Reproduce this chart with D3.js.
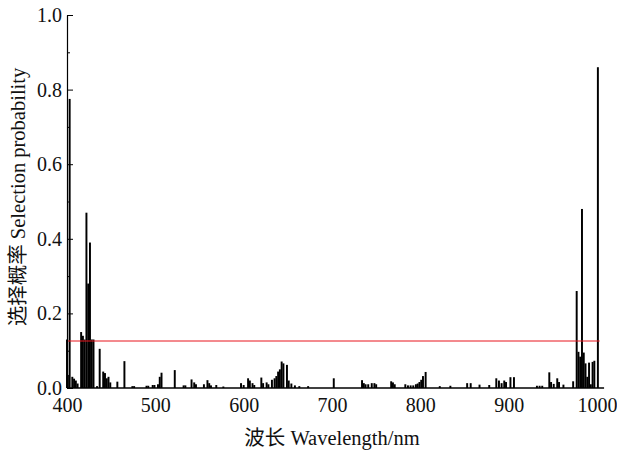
<!DOCTYPE html>
<html>
<head>
<meta charset="utf-8">
<script src="https://cdn.jsdelivr.net/npm/d3@7"></script>
<style>
  body { margin: 0; background: #fff; }
  text { font-family: "Liberation Serif", "Times New Roman", "Noto Sans CJK SC", serif; fill: #111; }
</style>
</head>
<body>
<svg id="chart" width="617" height="451"></svg>
<script>
// wavelength (nm) of each selected band and its selection probability
var wavelengths = [400, 401, 403, 406, 408, 410, 412, 416, 418, 420, 422, 424, 426, 428, 430,
  434, 437, 441, 443, 445, 447, 449, 457, 465, 474, 476, 490, 492, 497, 499,
  503, 505, 507, 522, 532, 534, 541, 544, 546, 555, 559, 561, 563, 569, 577,
  597, 600, 605, 607, 610, 612, 620, 622, 626, 628, 632, 635, 637, 639, 641,
  643, 645, 649, 651, 654, 658, 663, 673, 702, 734, 736, 738, 741, 745, 748,
  750, 767, 769, 771, 783, 786, 789, 792, 795, 797, 799, 801, 803, 806, 822,
  834, 853, 857, 867, 878, 886, 889, 892, 895, 897, 902, 906, 932, 935, 938,
  946, 948, 951, 955, 957, 962, 973, 977, 979, 981, 983, 985, 987, 989, 991,
  993, 995, 997, 1001];
var probs = [0.13, 0.035, 0.775, 0.03, 0.025, 0.02, 0.012, 0.15, 0.14, 0.13, 0.47, 0.28, 0.39, 0.13, 0.13,
  0.005, 0.105, 0.044, 0.04, 0.026, 0.03, 0.015, 0.017, 0.072, 0.005, 0.005, 0.006, 0.006, 0.008, 0.008,
  0.01, 0.03, 0.041, 0.048, 0.007, 0.007, 0.023, 0.015, 0.01, 0.01, 0.021, 0.013, 0.007, 0.008, 0.004,
  0.013, 0.008, 0.026, 0.02, 0.013, 0.008, 0.028, 0.013, 0.015, 0.01, 0.022, 0.026, 0.032, 0.044, 0.05,
  0.071, 0.066, 0.062, 0.02, 0.012, 0.007, 0.005, 0.005, 0.026, 0.021, 0.013, 0.01, 0.01, 0.013, 0.013,
  0.01, 0.018, 0.015, 0.01, 0.01, 0.007, 0.007, 0.007, 0.01, 0.012, 0.016, 0.022, 0.032, 0.043, 0.005,
  0.006, 0.013, 0.013, 0.009, 0.008, 0.026, 0.02, 0.013, 0.02, 0.016, 0.029, 0.029, 0.006, 0.006, 0.006,
  0.042, 0.016, 0.011, 0.026, 0.016, 0.009, 0.018, 0.26, 0.097, 0.084, 0.48, 0.095, 0.066, 0.03, 0.068,
  0.01, 0.07, 0.073, 0.86];

var threshold = 0.126;          // red reference line
var xTicks = [400, 500, 600, 700, 800, 900, 1000];
var yTicks = [0, 0.2, 0.4, 0.6, 0.8, 1.0];
var yMinorTicks = [0.1, 0.3, 0.5, 0.7, 0.9];
var xEnd = 1008;                // baseline runs a bit past 1000
var barWidthNm = 2.2;

var svg = d3.select("#chart");

var x = d3.scaleLinear().domain([400, 1000]).range([67, 597]);
var y = d3.scaleLinear().domain([0, 1]).range([388, 15]);

var data = wavelengths.map(function (w, i) { return { w: w, p: probs[i] }; });

// bars
var bw = x(400 + barWidthNm) - x(400);
svg.append("g")
  .selectAll("rect")
  .data(data)
  .enter().append("rect")
    .attr("x", d => x(d.w) - bw / 2)
    .attr("y", d => y(d.p))
    .attr("width", bw)
    .attr("height", d => y(0) - y(d.p))
    .attr("fill", "#000");

// threshold line
svg.append("line")
  .attr("x1", x(400)).attr("x2", x(1003))
  .attr("y1", y(threshold)).attr("y2", y(threshold))
  .attr("stroke", "#e8141c")
  .attr("stroke-width", 1);

// y axis, ticks pointing inward
var yAxis = svg.append("g")
  .attr("transform", `translate(${x(400)},0)`)
  .call(d3.axisLeft(y).tickValues(yTicks).tickSize(-6).tickPadding(5)
    .tickFormat(d3.format(".1f")).tickSizeOuter(0));
yAxis.select(".domain").attr("stroke-width", 1.2);
yAxis.selectAll("text").style("font-size", "20px").attr("fill", "#111");

svg.append("g")
  .attr("transform", `translate(${x(400)},0)`)
  .call(d3.axisLeft(y).tickValues(yMinorTicks).tickSize(-3).tickFormat("").tickSizeOuter(0))
  .select(".domain").remove();

// x axis: baseline plus labels
svg.append("line")
  .attr("x1", x(400)).attr("x2", x(xEnd))
  .attr("y1", y(0)).attr("y2", y(0))
  .attr("stroke", "#000").attr("stroke-width", 1.4);

var xAxis = svg.append("g")
  .attr("transform", `translate(0,${y(0)})`)
  .call(d3.axisBottom(x).tickValues(xTicks).tickSize(0).tickPadding(10).tickFormat(d3.format("d")));
xAxis.select(".domain").remove();
xAxis.selectAll("text").style("font-size", "20px").attr("fill", "#111");

// axis titles
svg.append("text")
  .attr("transform", "translate(25,197) rotate(-90)")
  .attr("text-anchor", "middle")
  .style("font-size", "20.5px")
  .text("选择概率 Selection probability");

svg.append("text")
  .attr("x", 332)
  .attr("y", 445)
  .attr("text-anchor", "middle")
  .style("font-size", "20.5px")
  .text("波长 Wavelength/nm");
</script>
</body>
</html>
